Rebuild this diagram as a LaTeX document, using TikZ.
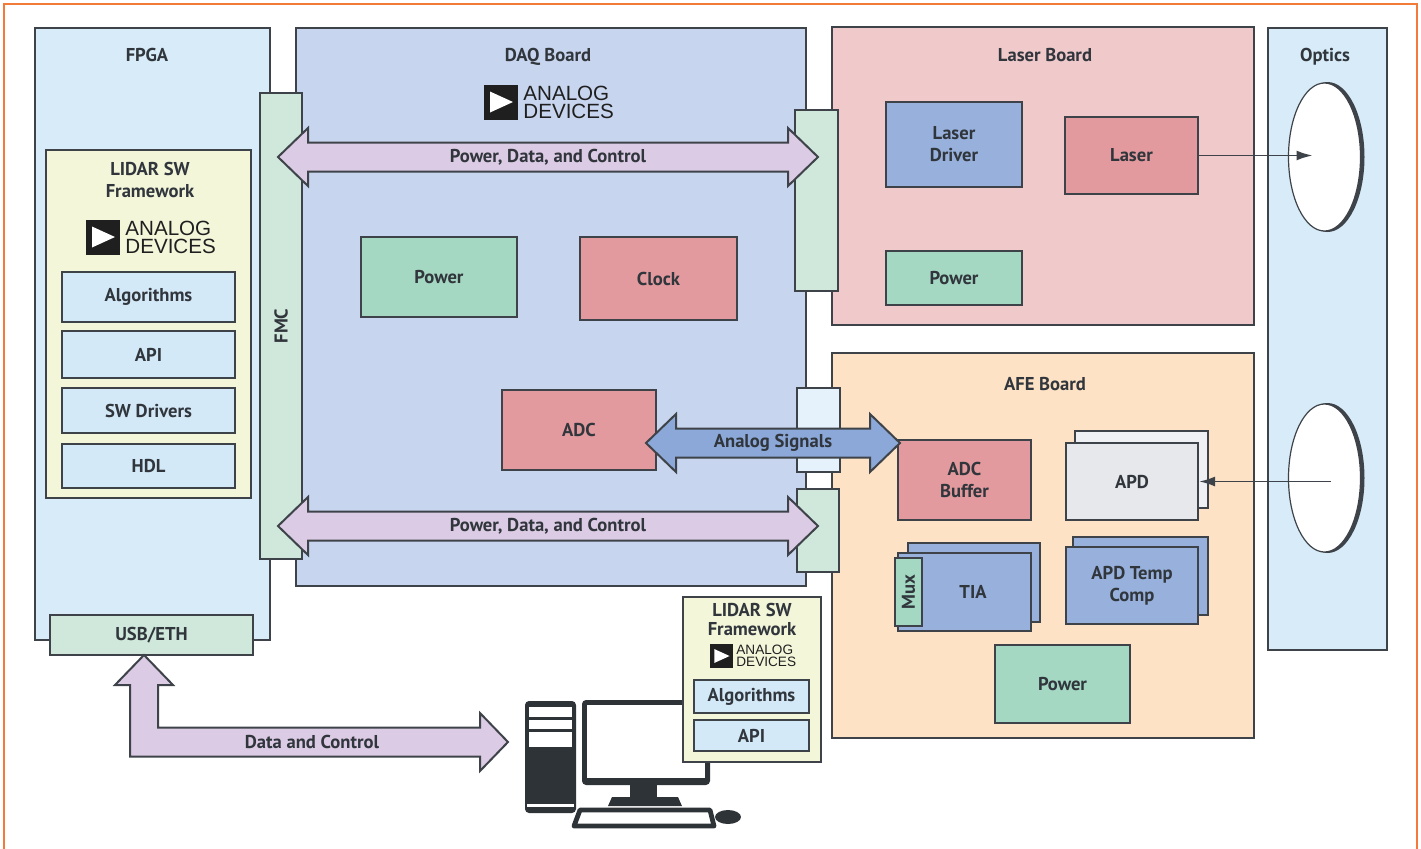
\documentclass[tikz,border=0pt]{standalone}
\usepackage{fontspec}
\setmainfont{PT Sans}
\newfontfamily\logofont{Liberation Sans}
\usepackage{xcolor}
\usepackage{tikz}
\usetikzlibrary{arrows.meta,calc,fit,shapes.geometric}
\definecolor{Ink}{HTML}{30363C}
\definecolor{Edge}{HTML}{3E4349}
\definecolor{PcDark}{HTML}{2E3338}
\definecolor{Frame}{HTML}{F27B3A}
\definecolor{FpgaBlue}{HTML}{D7EBF8}
\definecolor{DaqBlue}{HTML}{C8D5EE}
\definecolor{LaserPink}{HTML}{F0C9CB}
\definecolor{AfePeach}{HTML}{FDE2C6}
\definecolor{ConnGreen}{HTML}{CFE8DB}
\definecolor{PowerGreen}{HTML}{A5D8C3}
\definecolor{BlockRed}{HTML}{E39A9E}
\definecolor{BlockBlue}{HTML}{97B1DC}
\definecolor{SwYellow}{HTML}{F4F6DA}
\definecolor{ListBlue}{HTML}{D4E9F8}
\definecolor{BusLilac}{HTML}{DCCBE4}
\definecolor{BusBlue}{HTML}{8CA8D8}
\definecolor{AnaConn}{HTML}{E5F1FB}
\definecolor{ApdGray}{HTML}{E6E8EB}
\definecolor{ApdBack}{HTML}{EEF0F3}

% company mark: name of text node, centre, scale
\newcommand{\adilogo}[3]{%
  \begin{scope}[shift={#2},scale=#3,transform shape]
    \fill[black!88] (-63,-17.5) rectangle (-29,17.5);
    \fill[white] (-57,-10.5) -- (-34,0) -- (-57,10.5) -- cycle;
    \node[logo,anchor=west] (#1) at (-24,0) {ANALOG\\DEVICES};
  \end{scope}}

% fat two-headed bus between two tips on one row
\newcommand{\busarrow}[3]{%
  \draw[#1] (#2) -- ++(30,-29) -- ++(0,14.5) -- ($(#3)+(-30,-14.5)$) -- ++(0,-14.5)
    -- (#3) -- ++(-30,29) -- ++(0,-14.5) -- ($(#2)+(30,14.5)$) -- ++(0,14.5) -- cycle;}

\begin{document}
\begin{tikzpicture}[x=0.5pt,y=-0.5pt,
  board/.style={draw=Edge,line width=1.1pt,inner sep=0pt},
  blk/.style={draw=Edge,line width=1.1pt,inner sep=0pt},
  lbl/.style={text=Ink,align=center,inner sep=0pt,font=\bfseries\fontsize{9.3}{11}\selectfont},
  title/.style={lbl,anchor=base},
  txt/.style={label={[lbl]center:{#1}}},
  logo/.style={text=black!88,align=left,inner sep=0pt,font=\logofont\fontsize{10.3}{9}\selectfont},
  bus/.style={draw=Edge,line width=1pt,fill=BusLilac,line join=miter},
  beam/.style={draw=Edge,line width=0.9pt,-{Latex[length=8pt,width=5pt]}},
  lens/.style={ellipse,fill=white,draw=Edge,line width=0.6pt,minimum width=36pt,minimum height=74pt,inner sep=0pt},
  lensrim/.style={ellipse,fill=Edge,minimum width=37pt,minimum height=75pt,inner sep=0pt}
]
\useasboundingbox (0,0) rectangle (1421,848);
\draw[Frame,line width=1pt] (4,870) -- (4,4) -- (1417,4) -- (1417,870);

% FPGA carrier
\node[board,fill=FpgaBlue,fit={(35,28) (270,640)}] (fpga) {};
\node[title] (fpgaTitle) at (147,61) {FPGA};
\node[blk,fill=ConnGreen,fit={(50,615) (253,655)},txt={USB/ETH}] (usb) {};
\node[board,fill=SwYellow,fit={(46,150) (251,498)}] (fwFpga) {};
\node[lbl] (fwFpgaTitle) at (150,180) {LIDAR SW\\Framework};
\adilogo{logoFpga}{(149,237)}{1}
\node[blk,fill=ListBlue,fit={(62,272) (235,322)},txt={Algorithms}] (algo) {};
\node[blk,fill=ListBlue,fit={(62,331) (235,378)},txt={API}] (api) {};
\node[blk,fill=ListBlue,fit={(62,388) (235,433)},txt={SW Drivers}] (drivers) {};
\node[blk,fill=ListBlue,fit={(62,444) (235,488)},txt={HDL}] (hdl) {};

% DAQ board
\node[board,fill=DaqBlue,fit={(296,28) (806,586)}] (daq) {};
\node[title] (daqTitle) at (548,61) {DAQ Board};
\adilogo{logoDaq}{(547,102)}{1}
\node[blk,fill=PowerGreen,fit={(361,237) (517,317)},txt={Power}] (daqPower) {};
\node[blk,fill=BlockRed,fit={(580,237) (737,320)},txt={Clock}] (clock) {};
\node[blk,fill=BlockRed,fit={(502,390) (656,470)},txt={ADC}] (adc) {};
\node[blk,fill=ConnGreen,fit={(260,93) (302,559)}] (fmc) {};
\node[lbl,rotate=90] (fmcLabel) at (fmc.center) {FMC};

% laser board
\node[board,fill=LaserPink,fit={(832,27) (1254,325)}] (laserBd) {};
\node[title] (laserBdTitle) at (1045,61) {Laser Board};
\node[blk,fill=BlockBlue,fit={(886,102) (1022,187)},txt={Laser\\Driver}] (laserDrv) {};
\node[blk,fill=BlockRed,fit={(1065,117) (1198,194)},txt={Laser}] (laser) {};
\node[blk,fill=PowerGreen,fit={(886,251) (1022,305)},txt={Power}] (laserPower) {};

% AFE board
\node[board,fill=AfePeach,fit={(832,353) (1254,738)}] (afe) {};
\node[title] (afeTitle) at (1045,390) {AFE Board};
\node[blk,fill=BlockRed,fit={(898,440) (1031,520)},txt={ADC\\Buffer}] (adcBuf) {};
\node[blk,fill=ApdBack,fit={(1075,431) (1208,508)}] (apdBack) {};
\node[blk,fill=ApdGray,fit={(1066,443) (1198,520)},txt={APD}] (apd) {};
\node[blk,fill=BlockBlue,fit={(908,543) (1040,622)}] (tiaBack) {};
\node[blk,fill=BlockBlue,fit={(898,553) (1031,631)}] (tia) {};
\node[lbl] (tiaLabel) at (973,592) {TIA};
\node[blk,fill=PowerGreen,fit={(895,558) (922,626)}] (mux) {};
\node[lbl,rotate=90] (muxLabel) at (mux.center) {Mux};
\node[blk,fill=BlockBlue,fit={(1073,537) (1208,615)}] (tempBack) {};
\node[blk,fill=BlockBlue,fit={(1066,547) (1198,624)},txt={APD Temp\\Comp}] (temp) {};
\node[blk,fill=PowerGreen,fit={(995,645) (1130,723)},txt={Power}] (afePower) {};

% board-to-board connectors
\node[blk,fill=ConnGreen,fit={(795,110) (838,291)}] (laserConn) {};
\node[blk,fill=AnaConn,fit={(797,388) (840,472)}] (anaConn) {};
\node[blk,fill=ConnGreen,fit={(797,489) (839,572)}] (afeConn) {};

% optics
\node[board,fill=FpgaBlue,fit={(1268,28) (1387,650)}] (optics) {};
\node[title] (opticsTitle) at (1325,61) {Optics};
\node[lensrim] (lensTxRim) at (1327.5,157) {};
\node[lens] (lensTx) at (1324.5,157) {};
\node[lensrim] (lensRxRim) at (1327.5,478) {};
\node[lens] (lensRx) at (1324.5,478) {};
\draw[beam] (laser.east) -- ($(laser.east -| lensTx.center)+(-12,0)$);
\draw[beam] ($(apd.east -| lensRx.center)+(6,0)$) -- (apd.east);

% buses
\coordinate (pdcTopA) at (278,157);
\coordinate (pdcTopB) at (818,157);
\coordinate (pdcBotA) at (278,526);
\coordinate (pdcBotB) at (818,526);
\coordinate (anaA) at (646,443);
\coordinate (anaB) at (900,443);
\busarrow{bus}{pdcTopA}{pdcTopB}
\busarrow{bus}{pdcBotA}{pdcBotB}
\busarrow{bus,fill=BusBlue}{anaA}{anaB}
\node[lbl] (pdcTopLabel) at ($(pdcTopA)!0.5!(pdcTopB)$) {Power, Data, and Control};
\node[lbl] (pdcBotLabel) at ($(pdcBotA)!0.5!(pdcBotB)$) {Power, Data, and Control};
\node[lbl] (anaLabel) at ($(anaA)!0.5!(anaB)$) {Analog Signals};

% host PC
\fill[PcDark,rounded corners=2pt] (525,701) rectangle (576,813);
\fill[white] (529,707) rectangle (572,717);
\fill[white] (529,720) rectangle (572,729);
\fill[white] (529,732) rectangle (572,747);
\fill[white] (527,804) rectangle (574,807);
\fill[PcDark,rounded corners=2pt] (582,700) rectangle (710,785);
\fill[white] (587,705) rectangle (705,778);
\fill[PcDark] (630,784) rectangle (657,798);
\fill[PcDark] (612,797) -- (678,797) -- (682,806) -- (608,806) -- cycle;
\draw[PcDark,line width=2.4pt,fill=white,line join=round] (580,810) -- (710,810) -- (714,826) -- (574,826) -- cycle;
\fill[PcDark] (728,817) ellipse [x radius=13, y radius=7];

\node[board,fill=SwYellow,fit={(683,597) (821,762)}] (fwPc) {};
\node[lbl,font=\bfseries\fontsize{9.3}{9.5}\selectfont] (fwPcTitle) at (752,619) {LIDAR SW\\Framework};
\adilogo{logoPc}{(752,656)}{0.66}
\node[blk,fill=ListBlue,fit={(694,680) (809,713)},txt={Algorithms}] (pcAlgo) {};
\node[blk,fill=ListBlue,fit={(694,720) (809,751)},txt={API}] (pcApi) {};

% USB/ETH to host
\coordinate (dcA) at (144,655);
\coordinate (dcB) at (508,742);
\draw[bus] (dcA) -- ++(29,30) -- ++(-15,0) |- ($(dcB)+(-28,-14.5)$) -- ++(0,-14.5)
  -- (dcB) -- ++(-28,29) -- ++(0,-14.5) -| ($(dcA)+(-14,30)$) -- ++(-15,0) -- cycle;
\node[lbl] (dcLabel) at (312,742) {Data and Control};
\end{tikzpicture}
\end{document}
